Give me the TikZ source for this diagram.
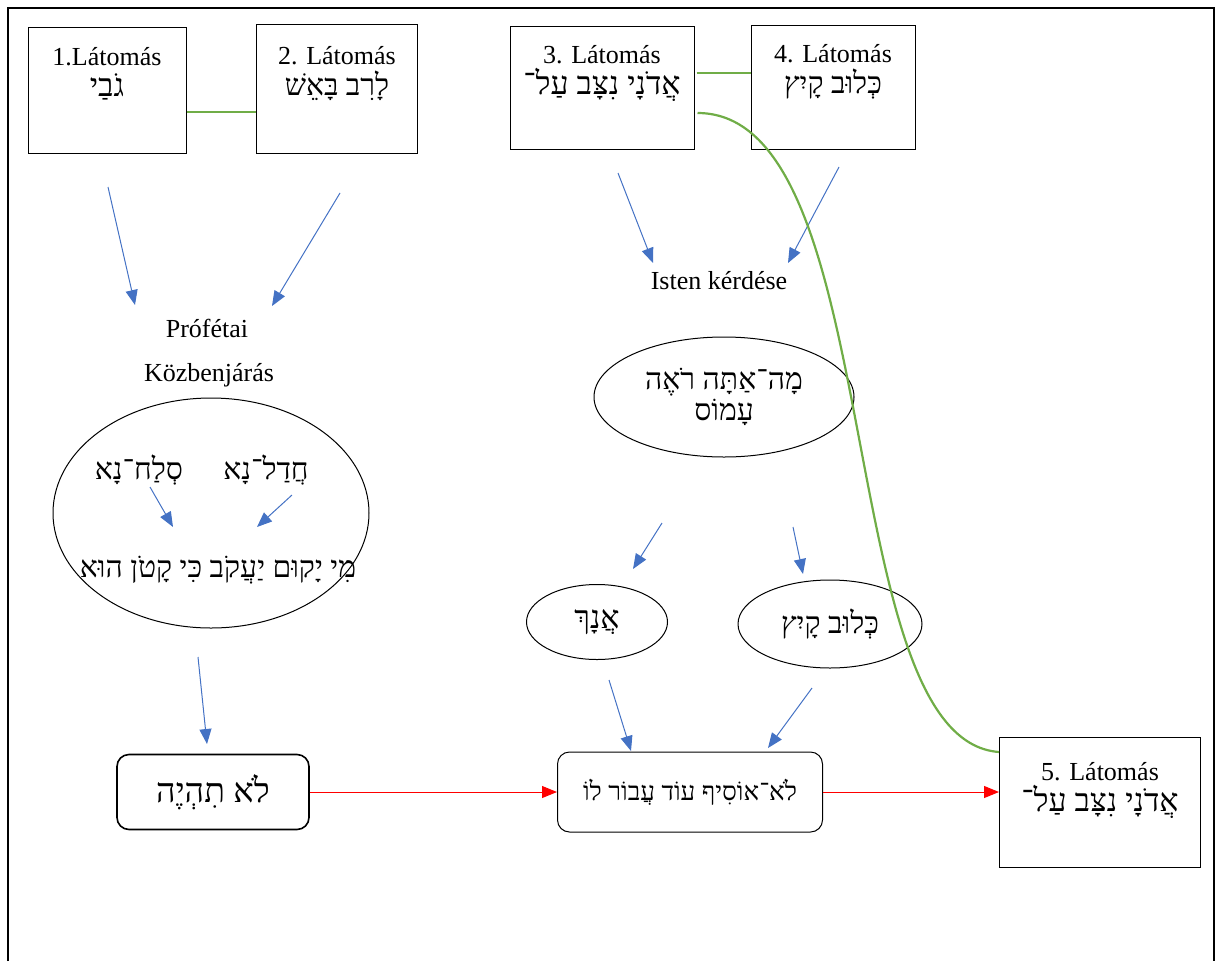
\documentclass[tikz,border=0pt]{standalone}
\usepackage{fontspec}
\setmainfont{Liberation Serif}
\newfontfamily\hebfont[Script=Hebrew]{Liberation Serif}
\TeXXeTstate=1
\newcommand{\heb}[2][30]{{\hebfont\fontsize{#1}{31}\selectfont\beginR #2\endR}}
\usetikzlibrary{shapes.geometric, arrows.meta, calc}

\definecolor{arrblue}{HTML}{4472C4}
\definecolor{linkgreen}{HTML}{70AD47}

\tikzset{
  vision/.style={draw, line width=1pt, align=center, text depth=36pt},
  oval/.style={draw, ellipse, line width=1pt, align=center},
  roundbox/.style={draw, rounded corners=12pt, align=center},
  arr/.style={draw=arrblue, line width=1pt, -{Triangle[length=15pt, width=12pt]}},
  redarr/.style={draw=red, line width=1pt, -{Triangle[length=15pt, width=12pt]}},
  link/.style={draw=linkgreen, line width=2.2pt}
}

\begin{document}
\begin{tikzpicture}[x=1pt, y=-1pt, font=\fontsize{26}{31}\selectfont]
  \useasboundingbox (0,0) rectangle (1217,961);
  \draw[line width=2pt] (8,961) -- (8,8) -- (1214,8) -- (1214,961);

  % the five visions
  \node[vision, minimum width=158pt, minimum height=126pt] (v1) at (107,90) {1.Látomás\\\heb[32]{גֹבַי}};
  \node[vision, minimum width=161pt, minimum height=129pt] (v2) at (337,89) {2. Látomás\\\heb{לָרִב בָּאֵשׁ}};
  \node[vision, minimum width=184pt, minimum height=123pt] (v3) at (602,88) {3. Látomás\\\heb[32]{אֲדֹנָי נִצָּב עַל־}};
  \node[vision, minimum width=164pt, minimum height=124pt] (v4) at (833,87) {4. Látomás\\\heb{כְּלוּב קָיִץ}};
  \node[vision, minimum width=201pt, minimum height=130pt, text depth=30pt] (v5) at (1100,802) {5. Látomás\\\heb[32]{אֲדֹנָי נִצָּב עַל־}};

  % left branch
  \node (prof) at (207,328) {Prófétai};
  \node (kozb) at (209,375) {Közbenjárás};
  \node[oval, minimum width=316pt, minimum height=230pt] (pray) at (211,513) {};
  \node (slach) at (139,470) {\heb{סְלַח־נָא}};
  \node (chadal) at (266,470) {\heb{חֲדַל־נָא}};
  \node (jakov) at (218,570) {\heb{מִי יָקוּם יַעֲקֹב כִּי קָטֹן הוּא}};
  \node[roundbox, line width=1.6pt, minimum width=192pt, minimum height=75pt] (lo) at (213,792) {\heb[34]{לֹא תִהְיֶה}};

  % right branch
  \node (kerd) at (719,281) {Isten kérdése};
  \node[oval, minimum width=260pt, minimum height=120pt] (amos) at (724,397) {\heb{מָה־אַתָּה רֹאֶה}\\\heb{עָמוֹס}};
  \node[oval, minimum width=141pt, minimum height=75pt] (anach) at (597,622) {\heb[32]{אֲנָךְ}};
  \node[oval, minimum width=184pt, minimum height=88pt] (kluv) at (830,624) {\heb{כְּלוּב קָיִץ}};
  \node[roundbox, line width=1pt, minimum width=265pt, minimum height=80pt] (osif) at (690,792) {\heb[26]{לֹא־אוֹסִיף עוֹד עֲבוֹר לוֹ}};

  % arrow ends
  \coordinate (a1) at (108,187);  \coordinate (b1) at (135,305);
  \coordinate (a2) at (340,193);  \coordinate (b2) at (272,306);
  \coordinate (a3) at (618,173);  \coordinate (b3) at (653,263);
  \coordinate (a4) at (839,167);  \coordinate (b4) at (788,263);
  \coordinate (a5) at (150,487);  \coordinate (b5) at (173,527);
  \coordinate (a6) at (292,495);  \coordinate (b6) at (257,527);
  \coordinate (a7) at (198,657);  \coordinate (b7) at (207,744);
  \coordinate (a8) at (662,523);  \coordinate (b8) at (633,569);
  \coordinate (a9) at (793,527);  \coordinate (b9) at (803,574);
  \coordinate (a10) at (609,680); \coordinate (b10) at (631,751);
  \coordinate (a11) at (812,688); \coordinate (b11) at (768,748);
  \foreach \i in {1,...,11}
    \draw[arr] (a\i) -- (b\i);

  \draw[redarr] (lo.east) -- (lo.east -| osif.west);
  \draw[redarr] (osif.east) -- (osif.east -| v5.west);

  % green links
  \draw[link] ($(v1.east)+(0,22)$) coordinate (g1) -- (g1 -| v2.west);
  \draw[link] ($(v3.east)+(2,-15)$) coordinate (g2) -- (g2 -| v4.west);
  \draw[link] ($(v3.east)+(3,25)$) .. controls (890,113) and (830,740) .. ($(v5.west)+(0,-50)$);
\end{tikzpicture}
\end{document}
